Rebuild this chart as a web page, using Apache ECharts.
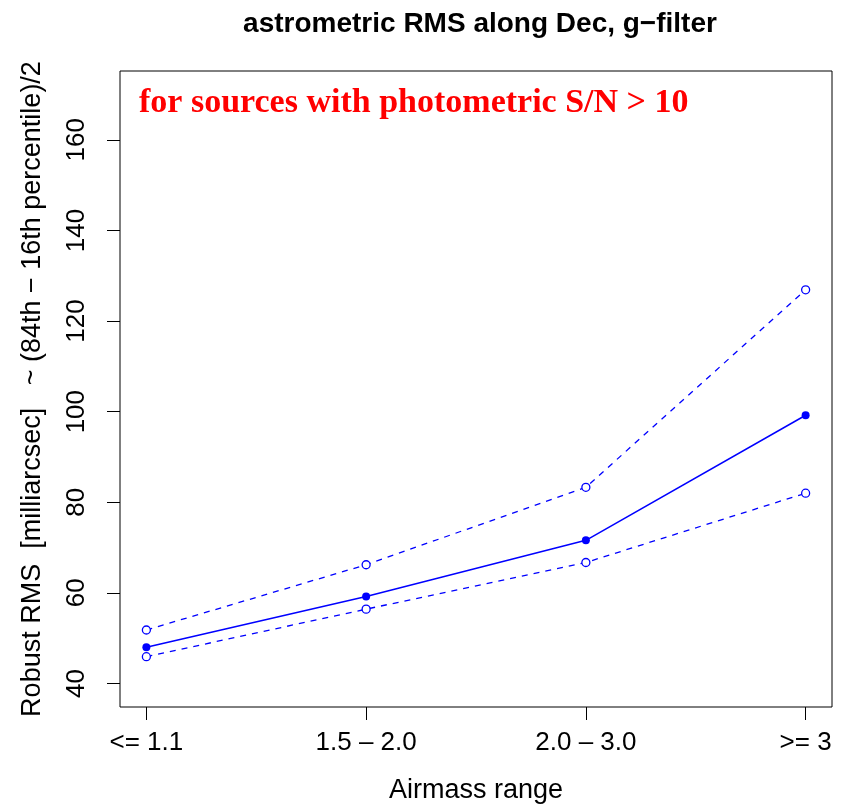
<!DOCTYPE html>
<html>
<head>
<meta charset="utf-8">
<script src="https://cdn.jsdelivr.net/npm/echarts@6/dist/echarts.min.js"></script>
<style>html,body{margin:0;padding:0;background:#fff;}#chart{width:845px;height:809px;}</style>
</head>
<body>
<div id="chart"></div>
<script>
const categories = ['<= 1.1', '1.5 \u2013 2.0', '2.0 \u2013 3.0', '>= 3'];
const xPositions = [1, 2, 3, 4];
const medianRMS = [48.0, 59.2, 71.6, 99.2];
const upperRMS = [51.8, 66.2, 83.3, 126.9];
const lowerRMS = [45.9, 56.4, 66.7, 82.0];
const yTicks = [40, 60, 80, 100, 120, 140, 160];

const FONT = 'Liberation Sans, Arial, Helvetica, sans-serif';
const blue = '#0000FF';
function pts(vals) { return vals.map((v, i) => [xPositions[i], v]); }

const chart = echarts.init(document.getElementById('chart'));
chart.setOption({
  animation: false,
  backgroundColor: '#ffffff',
  title: [
    { text: 'astrometric RMS along Dec, g\u2212filter', left: 475, top: 5, textAlign: 'center',
      textStyle: { fontFamily: FONT, fontSize: 28, fontWeight: 'bold', color: '#000' } },
    { text: 'for sources with photometric S/N > 10', left: 134, top: 81,
      textStyle: { fontFamily: 'Liberation Serif, Times New Roman, serif', fontSize: 34, fontWeight: 'bold', color: '#FF0000' } }
  ],
  grid: { left: 120, right: 13, top: 71, bottom: 100, show: true, borderColor: '#000', borderWidth: 1, backgroundColor: 'transparent' },
  xAxis: {
    type: 'value', min: 0.88, max: 4.12,
    name: 'Airmass range', nameLocation: 'middle', nameGap: 70,
    nameTextStyle: { fontFamily: FONT, fontSize: 27, color: '#000' },
    axisLine: { show: false },
    splitLine: { show: false },
    axisTick: { show: true, inside: false, length: 13, lineStyle: { color: '#000', width: 1 }, customValues: xPositions },
    axisLabel: { show: true, margin: 23, fontFamily: FONT, fontSize: 26, color: '#000', customValues: xPositions,
      formatter: function (v) { const i = xPositions.indexOf(Math.round(v)); return i >= 0 ? categories[i] : ''; } }
  },
  yAxis: {
    type: 'value', min: 34.8, max: 175.2,
    name: 'Robust RMS  [milliarcsec]   ~ (84th \u2212 16th percentile)/2', nameLocation: 'middle', nameGap: 74, nameRotate: 90,
    nameTextStyle: { fontFamily: FONT, fontSize: 27, color: '#000' },
    axisLine: { show: false },
    splitLine: { show: false },
    axisTick: { show: true, inside: false, length: 13, lineStyle: { color: '#000', width: 1 }, customValues: yTicks },
    axisLabel: { show: true, rotate: 90, margin: 30, fontFamily: FONT, fontSize: 26, color: '#000', customValues: yTicks }
  },
  series: [
    { name: 'median', type: 'line', data: pts(medianRMS), symbol: 'circle', symbolSize: 8,
      lineStyle: { color: blue, width: 1.5 }, itemStyle: { color: blue, borderColor: blue, borderWidth: 0 }, z: 3 },
    { name: 'upper', type: 'line', data: pts(upperRMS), symbol: 'circle', symbolSize: 8,
      lineStyle: { color: blue, width: 1.3, type: [6, 6] }, itemStyle: { color: '#fff', borderColor: blue, borderWidth: 1.3 }, z: 2 },
    { name: 'lower', type: 'line', data: pts(lowerRMS), symbol: 'circle', symbolSize: 8,
      lineStyle: { color: blue, width: 1.3, type: [6, 6] }, itemStyle: { color: '#fff', borderColor: blue, borderWidth: 1.3 }, z: 2 }
  ]
});
</script>
</body>
</html>
